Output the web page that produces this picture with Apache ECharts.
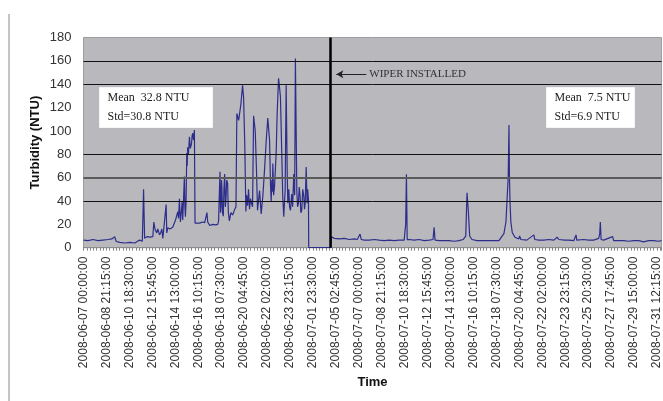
<!DOCTYPE html>
<html><head><meta charset="utf-8">
<script src="https://cdn.jsdelivr.net/npm/echarts@6/dist/echarts.min.js"></script>
<style>html,body{margin:0;padding:0;background:#fff}#c{width:663px;height:401px}</style>
</head><body><div id="c"></div>
<script>
// x-axis tick labels (one every 181 samples of 15 min)
const tickLabels = [
  '2008-06-07 00:00:00','2008-06-08 21:15:00','2008-06-10 18:30:00','2008-06-12 15:45:00',
  '2008-06-14 13:00:00','2008-06-16 10:15:00','2008-06-18 07:30:00','2008-06-20 04:45:00',
  '2008-06-22 02:00:00','2008-06-23 23:15:00','2008-07-01 23:30:00','2008-07-05 02:45:00',
  '2008-07-07 00:00:00','2008-07-08 21:15:00','2008-07-10 18:30:00','2008-07-12 15:45:00',
  '2008-07-14 13:00:00','2008-07-16 10:15:00','2008-07-18 07:30:00','2008-07-20 04:45:00',
  '2008-07-22 02:00:00','2008-07-23 23:15:00','2008-07-25 20:30:00','2008-07-27 17:45:00',
  '2008-07-29 15:00:00','2008-07-31 12:15:00'
];
const samplesPerTick = 181;
const lastSample = 4561;

// sample index (15-min steps) and turbidity (NTU)
const sampleIndex = [
  0,35,75,114,153,193,224,246,258,287,
  327,366,405,442,464,474,482,500,523,547,
  555,565,578,586,600,610,618,626,639,652,
  657,665,681,704,726,744,750,757,761,765,
  778,783,796,800,804,809,812,815,818,822,
  828,836,843,852,857,862,868,875,880,893,
  917,940,956,966,974,980,996,1019,1043,1059,
  1066,1070,1077,1081,1085,1089,1092,1097,1103,1108,
  1114,1119,1124,1130,1137,1143,1151,1163,1177,1190,
  1203,1210,1224,1242,1255,1263,1273,1281,1287,1295,
  1302,1310,1318,1326,1334,1342,1355,1365,1373,1389,
  1402,1415,1428,1442,1454,1468,1476,1481,1486,1490,
  1494,1500,1507,1513,1520,1528,1539,1546,1554,1565,
  1572,1580,1591,1599,1607,1612,1620,1626,1633,1643,
  1650,1659,1666,1672,1683,1689,1696,1702,1709,1715,
  1722,1730,1738,1744,1749,1757,1764,1769,1775,1777,
  1953,1956,1968,1979,2019,2058,2097,2137,2160,2172,
  2182,2192,2215,2255,2294,2333,2373,2412,2452,2491,
  2530,2542,2548,2554,2570,2609,2648,2688,2727,2758,
  2766,2774,2806,2845,2884,2924,2963,2995,3016,3026,
  3036,3047,3065,3105,3160,3199,3238,3278,3317,3333,
  3351,3357,3361,3365,3372,3383,3404,3435,3441,3451,
  3498,3553,3561,3593,3632,3671,3685,3711,3737,3750,
  3797,3807,3829,3868,3886,3892,3947,3986,4025,4065,
  4073,4078,4084,4104,4175,4183,4222,4262,4301,4340,
  4380,4419,4458,4498,4537,4561
];
const turbidity = [
  6.5,6,7,6,6.5,7,7.5,9.5,5.3,4.5,
  4,4.5,4,6.5,5.5,50,8,9.5,9,9.5,
  22,15.6,12.7,16,11,13,16,8,8,37,
  12.7,17,16,17.5,23.7,30.8,25,42,30,22,
  39,23.7,61,35,26.5,38,60,81,70,86,
  80,95,85,89,96,98,92,100.7,21,20,
  21,22,21.5,23,30,22,19,20,19.5,20,
  23,40,65,30,35,58,52,30,27,50,
  63,35,41,58,55,30,23,30,28,32,
  35,115,109,123,139,129,86,31,45,36,
  50,33,42,38,35,113,100,66,32,49,
  29,44,66,92,111,92,52,40,58,48,
  72,45,52,65,81,115,145,138,129,78,
  44,26.5,49,139,66,38,50,35,32,46,
  35,63,45,162,49,35,38,52,44,30,
  32,50,44,33,38,69,38,50,41,0,
  0,9.4,10,8,7.5,8,7,7.5,7,8,
  11.7,7,6.5,6.5,7,6.5,6,6.5,6,6.5,
  6.5,20,62.8,7,7,6.5,7,6,6.5,7,
  17.4,6.5,6,6,6,5.5,6,7,10,47,
  32,10,7,6,6,6,6,6,12,22,
  60.7,105,60,40,22,13,9,7.5,10,7,
  6.5,11,7,6.5,6.5,7,8.5,6.5,9,7,
  6.5,8,6.5,6,11,6.5,7,6.5,6.5,8,
  12,22,7,6.5,9.5,6,6,6,5.5,6,
  6,5,6,6,5.5,6
];

const gridLevels = [40, 80, 140, 160];
const darkGridLevels = [60];
const wiperIndex = 1950;
const wiperArrow = { from: 1995, to: 2231, level: 148.5, text: 'WIPER INSTALLED' };
const statsBefore = ['Mean  32.8 NTU', 'Std=30.8 NTU'];
const statsAfter = ['Mean  7.5 NTU', 'Std=6.9 NTU'];

const lineData = sampleIndex.map((x, i) => [x, turbidity[i]]);
const chart = echarts.init(document.getElementById('c'));

const serif = '"Liberation Serif", "Times New Roman", serif';
const sans = '"Liberation Sans", Arial, sans-serif';

function statBox(x, y, w, lines) {
  return {
    type: 'group', left: x, top: y, z: 100,
    children: [
      { type: 'rect', shape: { x: 0, y: 0, width: w, height: 40 }, style: { fill: '#ffffff', stroke: '#f4f4f4' } },
      { type: 'text', x: 8, y: 10, style: { text: lines[0], font: '12px ' + serif, fill: '#222', verticalAlign: 'middle' } },
      { type: 'text', x: 8, y: 29, style: { text: lines[1], font: '12px ' + serif, fill: '#222', verticalAlign: 'middle' } }
    ]
  };
}

chart.setOption({
  animation: false,
  backgroundColor: '#ffffff',
  grid: {
    left: 83.5, right: 0, top: 37.5, bottom: 153.3,
    show: true, backgroundColor: '#b9b9bd', borderColor: '#9c9c9c', borderWidth: 1
  },
  xAxis: {
    type: 'value', min: 0, max: lastSample, interval: samplesPerTick,
    name: 'Time', nameLocation: 'middle', nameGap: 127,
    nameTextStyle: { fontFamily: sans, fontWeight: 'bold', fontSize: 13, color: '#111' },
    axisLine: { show: true, lineStyle: { color: '#8c8c8c', width: 1 } },
    axisTick: { show: true, length: 3, lineStyle: { color: '#888' } },
    minorTick: { show: true, splitNumber: 7, length: 3, lineStyle: { color: '#888' } },
    splitLine: { show: false },
    axisLabel: {
      rotate: 90, margin: 9, fontFamily: sans, fontSize: 12, color: '#333',
      showMaxLabel: false,
      formatter: v => (v % samplesPerTick === 0 ? (tickLabels[v / samplesPerTick] || '') : '')
    }
  },
  yAxis: {
    type: 'value', min: 0, max: 180, interval: 20,
    name: 'Turbidity (NTU)', nameLocation: 'middle', nameGap: 42, nameRotate: 90,
    nameMoveOverlap: false,
    nameTextStyle: { fontFamily: sans, fontWeight: 'bold', fontSize: 13, color: '#111' },
    axisLine: { show: false }, axisTick: { show: false }, splitLine: { show: false },
    axisLabel: { fontFamily: sans, fontSize: 13, color: '#333', margin: 12 }
  },
  series: [
    {
      type: 'line', data: lineData, showSymbol: false, symbol: 'none', sampling: 'none',
      lineStyle: { color: '#2d2d8c', width: 1.2 }, z: 3,
      markLine: {
        silent: true, symbol: 'none', animation: false,
        label: { show: false },
        data: [
          ...gridLevels.map(v => ({ yAxis: v, lineStyle: { color: '#111', width: 1, type: 'solid' } })),
          ...darkGridLevels.map(v => ({ yAxis: v, lineStyle: { color: '#5a5a5a', width: 2, type: 'solid' } })),
          { xAxis: wiperIndex, lineStyle: { color: '#000', width: 2.5, type: 'solid' } }
        ]
      }
    },
    {
      type: 'line', data: [], z: 5,
      markLine: {
        silent: true, symbol: ['arrow', 'none'], symbolSize: [6, 7], animation: false,
        lineStyle: { color: '#222', width: 1, type: 'solid' },
        label: {
          show: true, position: 'end', distance: 3,
          formatter: wiperArrow.text, fontFamily: serif, fontSize: 11, color: '#333'
        },
        data: [[{ coord: [wiperArrow.from, wiperArrow.level] }, { coord: [wiperArrow.to, wiperArrow.level] }]]
      }
    }
  ],
  graphic: [
    { type: 'line', shape: { x1: 9, y1: 14, x2: 9, y2: 401 }, style: { stroke: '#8a8a8a', lineWidth: 1 } },
    statBox(99, 87, 113, statsBefore),
    statBox(546, 87, 88, statsAfter)
  ]
});
</script>
</body></html>
